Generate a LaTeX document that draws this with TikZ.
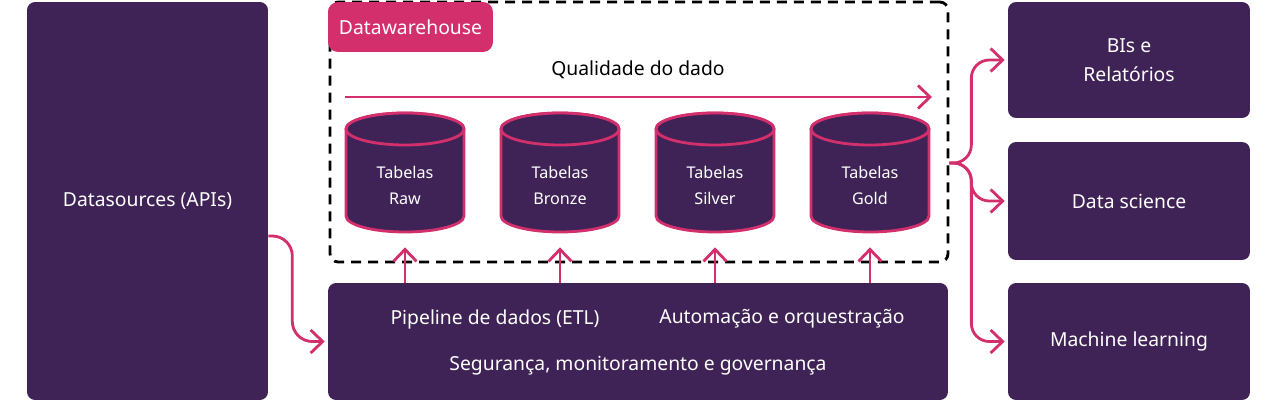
\documentclass[tikz,border=0pt]{standalone}
\usepackage{fontspec}
\setmainfont{Noto Sans}
\usetikzlibrary{arrows.meta,positioning}
\definecolor{dwpurple}{RGB}{64,35,86}
\definecolor{dwpink}{RGB}{211,47,108}

\begin{document}
\begin{tikzpicture}[x=0.02cm,y=-0.02cm,>={Straight Barb[length=2.4mm,width=4.6mm]},node distance=7.4mm,
  darkbox/.style={fill=dwpurple,rounded corners=1.6mm,text=white,align=center,font=\fontsize{11}{16.5}\selectfont},
  cylbody/.style={draw=dwpink,fill=dwpurple,line width=1.6pt},
  tabtext/.style={text=white,align=center,minimum width=2.36cm,minimum height=2.4cm,font=\fontsize{9.2}{14.8}\selectfont},
  flow/.style={->,draw=dwpink,line width=1.6pt},
  txt/.style={text=white,font=\fontsize{11}{13}\selectfont}]
\useasboundingbox (0,0) rectangle (1280,402);
% sources and warehouse
\node[darkbox,minimum width=4.82cm,minimum height=7.96cm] (src) at (147.5,201) {Datasources (APIs)};
\node[draw,dash pattern=on 2mm off 1.4mm,line width=1.6pt,rounded corners=1.6mm,minimum width=12.36cm,minimum height=5.2cm] (dw) at (639,132) {};
\node[fill=dwpink,rounded corners=2mm,text=white,minimum width=3.3cm,minimum height=1cm,font=\fontsize{11}{13}\selectfont] (dwlabel) at (410.5,27) {Datawarehouse};
\node[font=\fontsize{11}{13}\selectfont] (qual) at (638,70) {Qualidade do dado};
\coordinate (q0) at (345,97); \coordinate (q1) at (932,97);
\draw[flow] (q0) -- (q1);
% tables (cylinders)
\foreach \t/\l [count=\i] in {raw/Raw,bronze/Bronze,silver/Silver,gold/Gold} {
  \pgfmathsetmacro\cx{250+155*\i}
  \filldraw[cylbody] (\cx-59,216) arc[start angle=180,end angle=360,x radius=1.18cm,y radius=0.32cm]
    -- (\cx+59,129) arc[start angle=0,end angle=180,x radius=1.18cm,y radius=0.32cm] -- cycle;
  \draw[cylbody] (\cx,129) ellipse[x radius=1.18cm,y radius=0.32cm];
  \node[tabtext] (\t) at (\cx,185) {Tabelas\\\l};
}
% pipeline
\node[darkbox,minimum width=12.4cm,minimum height=2.34cm] (pipe) at (638,341.5) {};
\node[txt] (etl) at (495,319) {Pipeline de dados (ETL)};
\node[txt] (auto) at (782,319) {Automação e orquestração};
\node[txt] (gov) at (638,366) {Segurança, monitoramento e governança};
\foreach \t in {raw,bronze,silver,gold}
  \draw[flow,shorten >=0.4mm] (pipe.north -| \t) -- (\t.south);
% consumers
\node[darkbox,minimum width=4.84cm,minimum height=2.32cm] (bi) at (1129,60) {BIs e\\Relatórios};
\node[darkbox,minimum width=4.84cm,minimum height=2.36cm] (ds) at (1129,201) {Data science};
\node[darkbox,minimum width=4.84cm,minimum height=2.34cm] (ml) at (1129,341.5) {Machine learning};
\draw[flow,rounded corners=4mm,shorten >=0.6mm] ([yshift=-7mm]src.east) -- ++(24,0) |- (pipe.west);
\foreach \t in {bi,ds,ml}
  \draw[flow,rounded corners=3.6mm,shorten >=0.6mm] ([yshift=-6.2mm]dw.east) -- ++(22,0) |- (\t.west);
\end{tikzpicture}
\end{document}
